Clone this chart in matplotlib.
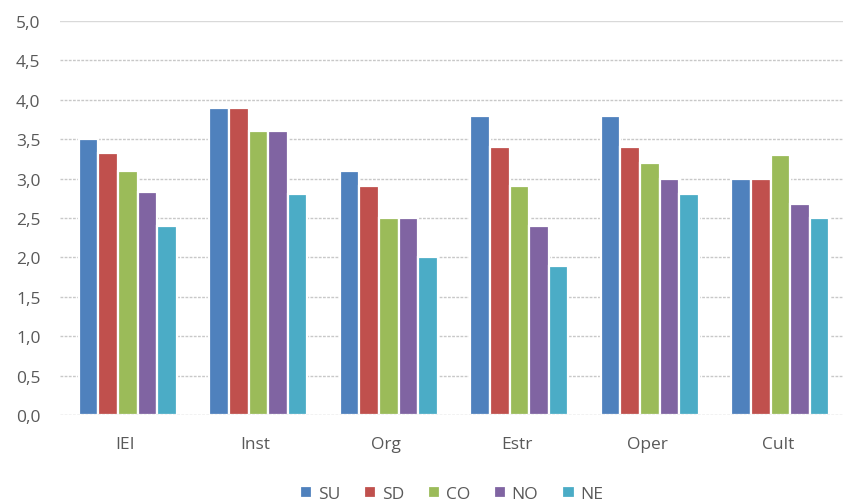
import matplotlib.pyplot as plt
import numpy as np

categories = ["IEI", "Inst", "Org", "Estr", "Oper", "Cult"]
series_names = ["SU", "SD", "CO", "NO", "NE"]
su = [3.5, 3.9, 3.1, 3.8, 3.8, 3.0]
sd = [3.32, 3.9, 2.9, 3.4, 3.4, 3.0]
co = [3.1, 3.6, 2.5, 2.9, 3.2, 3.3]
no = [2.83, 3.6, 2.5, 2.4, 3.0, 2.68]
ne = [2.4, 2.8, 2.0, 1.89, 2.8, 2.5]
colors = ["#4F81BD", "#C0504D", "#9BBB59", "#8064A2", "#4BACC6"]

plt.rcParams['font.family'] = ['Open Sans', 'DejaVu Sans']

fig = plt.figure(figsize=(8.51, 5.02), dpi=100)
ax = fig.add_axes([60 / 851, 1 - 416 / 502, 783 / 851, 394 / 502])

x = np.arange(len(categories))
slot = 0.15
for i, (name, vals) in enumerate(zip(series_names, [su, sd, co, no, ne])):
    ax.bar(x + (i - 2) * slot + 0.02, vals, width=slot, color=colors[i],
           edgecolor="white", linewidth=1.6, label=name, zorder=3)

ax.set_xlim(-0.5, len(categories) - 0.5)
ax.set_ylim(0, 5)
ax.set_yticks(np.arange(0, 5.01, 0.5))
ax.set_yticklabels([f"{v:.1f}".replace(".", ",") for v in np.arange(0, 5.01, 0.5)])
ax.set_xticks(x)
ax.set_xticklabels(categories)

for y in np.arange(0.5, 5.0, 0.5):
    ax.axhline(y, color="#C8C8C8", linestyle=(0, (2, 1)), linewidth=1, zorder=1)
ax.axhline(5.0, color="#D9D9D9", linewidth=1, zorder=1)
ax.axhline(0, color="#BFBFBF", linestyle=(0, (2, 1)), linewidth=1, zorder=4)

for s in ax.spines.values():
    s.set_visible(False)
ax.tick_params(axis="both", length=0, labelsize=12.5, colors="#595959")
ax.tick_params(axis="x", pad=15)
ax.tick_params(axis="y", pad=14)

ax.legend(loc="center", bbox_to_anchor=(0.5, -0.2), ncol=5, frameon=False,
          fontsize=12.5, handlelength=0.7, handleheight=0.7, handletextpad=0.3,
          columnspacing=1.4, labelcolor="#595959")

fig.savefig("out.png", dpi=100)
